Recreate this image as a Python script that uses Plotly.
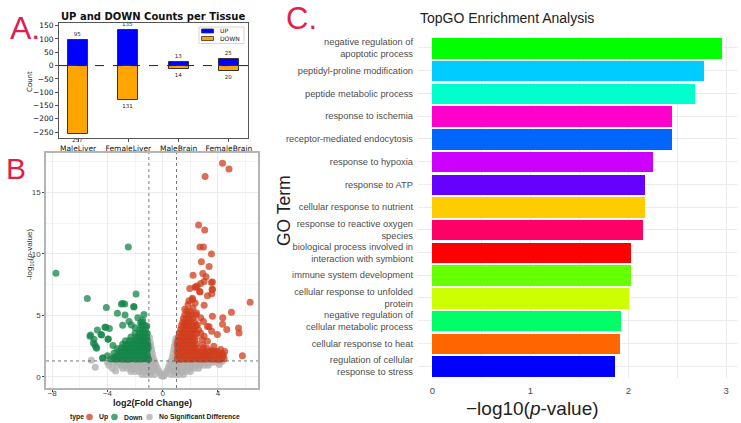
import plotly.graph_objects as go

# ---------------- data ----------------
tissues = ["MaleLiver", "FemaleLiver", "MaleBrain", "FemaleBrain"]
up_counts = [95, 135, 13, 25]
down_counts = [257, 131, 14, 20]

go_terms = [
    "negative regulation of<br>apoptotic process",
    "peptidyl-proline modification",
    "peptide metabolic process",
    "response to ischemia",
    "receptor-mediated endocytosis",
    "response to hypoxia",
    "response to ATP",
    "cellular response to nutrient",
    "response to reactive oxygen<br>species",
    "biological process involved in<br>interaction with symbiont",
    "immune system development",
    "cellular response to unfolded<br>protein",
    "negative regulation of<br>cellular metabolic process",
    "cellular response to heat",
    "regulation of cellular<br>response to stress",
]
go_values = [2.96, 2.77, 2.68, 2.445, 2.45, 2.255, 2.17, 2.17, 2.15, 2.03, 2.03, 2.01, 1.93, 1.91, 1.86]
go_colors = ["#00FF00", "#00CCFF", "#00FFCC", "#FF00CC", "#0066FF", "#CC00FF", "#6600FF", "#FFCC00",
             "#FF0066", "#FF0000", "#66FF00", "#CCFF00", "#00FF66", "#FF6600", "#0000FF"]

# volcano: significant up-regulated genes
up_x = [4.33, 4.8, 3.07, 2.6, 3.04, 2.7, 2.95, 3.53, 2.8, 3.36, 2.2, 2.9, 3.14, 3.53, 2.75, 3.0, 2.5, 2.35,
        1.96, 3.58, 2.68, 3.55, 3.24, 2.15, 3.6, 2.39, 2.7, 3.6, 6.33, 1.83, 2.15, 3.0, 4.98, 3.6, 4.35,
        4.64, 5.49, 5.53, 5.77, 3.96, 3.55, 3.36, 3.24, 4.2, 4.08, 3.6, 4.33, 3.91, 3.36, 2.75, 2.51, 4.33,
        3.24, 2.75, 4.49, 3.0, 2.9, 3.7, 3.1, 2.95, 2.2, 2.45, 1.6, 1.9, 2.35,
        1.05, 1.25, 1.45, 1.65, 1.85, 2.05, 2.25, 2.45, 2.65, 2.85, 3.05, 3.25, 3.45, 3.65, 3.85, 4.05, 4.25, 4.45,
        1.1, 1.3, 1.5, 1.7, 1.9, 2.1, 2.3, 2.5, 2.7, 2.9, 3.1, 3.3, 3.5, 3.7, 3.95, 4.15, 4.4,
        1.05, 1.25, 1.45, 1.65, 1.85, 2.05, 2.25, 2.45, 2.65, 2.85, 3.05, 3.45, 3.75,
        1.1, 1.3, 1.5, 1.7, 1.9, 2.1, 2.3, 2.5, 2.95, 3.2,
        1.05, 1.25, 1.45, 1.65, 1.85, 2.05, 2.25, 2.45,
        1.1, 1.3, 1.5, 1.7, 1.9, 2.1, 2.3, 2.85,
        1.15, 1.35, 1.55, 1.75, 1.95, 2.15, 2.35,
        1.2, 1.4, 1.6, 1.8, 2.0, 2.2, 2.45,
        1.3, 1.5, 1.7, 1.9, 2.1, 2.3, 2.6,
        1.35, 1.55, 1.75, 1.95, 2.15, 2.4,
        1.45, 1.65, 1.85, 2.05, 2.3,
        1.5, 1.7, 1.95, 2.2,
        1.6, 1.85, 2.1, 2.4,
        1.75, 2.0]
up_y = [17.37, 16.9, 16.3, 12.35, 11.95, 10.57, 10.57, 10.0, 9.37, 8.97, 8.27, 8.4, 8.15, 7.67, 7.6, 7.75, 7.4, 7.3,
        7.18, 7.13, 6.94, 6.77, 6.59, 6.4, 7.72, 7.29, 6.91, 7.1, 6.07, 5.88, 6.28, 5.83, 5.26, 4.93, 4.8,
        3.85, 3.98, 3.58, 1.73, 3.44, 3.71, 4.07, 2.9, 2.22, 1.95, 2.14, 1.87, 2.09, 2.09, 4.8, 4.25, 4.28,
        4.09, 3.55, 2.06, 3.3, 2.6, 2.5, 1.9, 4.5, 5.6, 5.2, 5.5, 6.2, 6.0,
        1.45, 1.42, 1.47, 1.44, 1.46, 1.43, 1.45, 1.48, 1.44, 1.46, 1.43, 1.47, 1.45, 1.44, 1.46, 1.42, 1.45, 1.48,
        1.75, 1.78, 1.73, 1.76, 1.74, 1.77, 1.75, 1.72, 1.76, 1.74, 1.78, 1.75, 1.73, 1.76, 1.74, 1.77, 1.75,
        2.05, 2.03, 2.07, 2.04, 2.06, 2.05, 2.02, 2.08, 2.05, 2.04, 2.06, 2.03, 2.07,
        2.35, 2.37, 2.33, 2.36, 2.34, 2.35, 2.38, 2.32, 2.36, 2.34,
        2.65, 2.63, 2.67, 2.64, 2.66, 2.65, 2.62, 2.68,
        2.95, 2.97, 2.93, 2.96, 2.94, 2.95, 2.98, 3.05,
        3.25, 3.23, 3.27, 3.24, 3.26, 3.25, 3.22,
        3.55, 3.57, 3.53, 3.56, 3.54, 3.55, 3.52,
        3.85, 3.83, 3.87, 3.84, 3.86, 3.85, 3.82,
        4.15, 4.17, 4.13, 4.16, 4.14, 4.15,
        4.45, 4.43, 4.47, 4.44, 4.46,
        4.75, 4.77, 4.73, 4.76,
        5.05, 5.03, 5.07, 5.04,
        5.35, 5.33]

# volcano: significant down-regulated genes
down_x = [-2.49, -7.73, -1.93, -5.46, -4.08, -2.99, -2.75, -2.1, -3.28, -1.36, -2.73, -2.44, -2.27, -4.13,
          -3.86, -4.73, -5.22, -4.42, -3.96, -4.98, -4.9, -4.78, -4.0, -4.33, -3.53, -3.6, -3.3, -1.8, -1.6,
          -2.0, -1.45, -3.5, -3.75, -2.9, -2.08, -2.9, -4.18, -5.27, -4.47, -3.94, -5.02, -4.83, -4.35,
          -3.55, -3.35, -3.15, -2.95, -2.75, -2.55, -2.35, -2.15, -1.95, -1.75, -1.55, -1.35, -1.15, -1.02,
          -3.3, -3.1, -2.9, -2.7, -2.5, -2.3, -2.1, -1.9, -1.7, -1.5, -1.3, -1.1,
          -3.15, -2.95, -2.75, -2.55, -2.35, -2.15, -1.95, -1.75, -1.55, -1.35, -1.15,
          -3.0, -2.8, -2.6, -2.4, -2.2, -2.0, -1.8, -1.6, -1.4, -1.2, -1.05,
          -2.9, -2.65, -2.45, -2.25, -2.05, -1.85, -1.65, -1.45, -1.25, -1.08,
          -2.7, -2.4, -2.1, -1.9, -1.7, -1.5, -1.3, -1.12,
          -2.3, -1.95, -1.75, -1.55, -1.35, -1.15,
          -2.0, -1.7, -1.5, -1.3, -1.12,
          -1.65, -1.45, -1.25,
          -1.55, -1.3, -1.15,
          -1.5]
down_y = [10.55, 8.43, 6.75, 6.37, 5.64, 5.93, 5.93, 5.72, 5.18, 5.07, 5.04, 4.5, 4.23, 4.04,
          3.93, 3.82, 3.41, 3.41, 3.06, 3.06, 2.6, 2.33, 1.73, 1.54, 1.92, 2.55, 2.3, 4.8, 4.4,
          4.0, 4.6, 1.6, 1.45, 5.96, 5.69, 4.2, 4.04, 3.31, 3.44, 3.09, 2.76, 2.41, 1.54,
          1.45, 1.43, 1.47, 1.44, 1.46, 1.42, 1.45, 1.48, 1.44, 1.46, 1.43, 1.47, 1.45, 1.44,
          1.75, 1.77, 1.73, 1.76, 1.74, 1.78, 1.75, 1.72, 1.76, 1.74, 1.77, 1.75,
          2.05, 2.03, 2.07, 2.04, 2.06, 2.05, 2.02, 2.08, 2.05, 2.04, 2.06,
          2.35, 2.37, 2.33, 2.36, 2.34, 2.35, 2.38, 2.32, 2.36, 2.34, 2.35,
          2.65, 2.63, 2.67, 2.64, 2.66, 2.65, 2.62, 2.68, 2.65, 2.64,
          2.95, 2.97, 2.93, 2.96, 2.94, 2.95, 2.98, 2.95,
          3.25, 3.23, 3.27, 3.24, 3.26, 3.25,
          3.55, 3.57, 3.53, 3.56, 3.54,
          3.85, 3.83, 3.87,
          4.15, 4.17, 4.13,
          4.45]

# volcano: not significant
ns_x = [-0.95, -0.9, -0.85, -0.8, -0.75, -0.7, -0.6, -0.5, -0.4, -0.3, -0.2, -0.1, 0.0, 0.1, 0.2, 0.3, 0.4,
        0.5, 0.6, 0.7, 0.75, 0.8, 0.85, 0.9, 0.95,
        -0.95, -0.95, -0.9, -0.95, -0.8, -0.9, -0.7, -0.6, -0.85, 0.95, 0.95, 0.9, 0.95, 0.8, 0.9, 0.7, 0.6, 0.85,
        -3.6, -3.3, -3.0, -2.7, -2.4, -2.1, -1.8, -1.5, -1.2, 1.2, 1.5, 1.8, 2.1, 2.4, 2.7, 3.0, 3.3, 3.6, 3.9,
        -3.3, -3.0, -2.7, -2.4, -2.1, -1.8, -1.5, -1.2, 1.2, 1.5, 1.8, 2.1, 2.4, 2.7, 3.0, 3.3,
        -2.9, -2.6, -2.3, -2.0, -1.7, -1.4, -1.1, 1.1, 1.4, 1.7, 2.0, 2.3, 2.6,
        -2.3, -2.0, -1.7, -1.4, -1.1, -0.8, 0.8, 1.1, 1.4, 1.7, 2.0,
        -1.5, -1.2, -0.9, -0.6, 0.6, 0.9, 1.2, 1.5,
        -5.17, -4.88, -3.65, -3.41, -4.0, -3.9, 4.3, 4.1]
ns_y = [3.2, 2.8, 2.5, 2.2, 1.9, 1.6, 1.3, 1.0, 0.75, 0.5, 0.3, 0.12, 0.05, 0.1, 0.28, 0.5, 0.75,
        1.0, 1.3, 1.6, 1.9, 2.2, 2.5, 2.8, 3.1,
        2.5, 2.0, 1.6, 1.2, 1.2, 0.9, 0.9, 0.6, 0.6, 2.5, 2.0, 1.6, 1.2, 1.2, 0.9, 0.9, 0.6, 0.6,
        1.2, 1.2, 1.2, 1.2, 1.2, 1.2, 1.2, 1.2, 1.2, 1.2, 1.2, 1.2, 1.2, 1.2, 1.2, 1.2, 1.2, 1.2, 1.2,
        0.95, 0.95, 0.95, 0.95, 0.95, 0.95, 0.95, 0.95, 0.95, 0.95, 0.95, 0.95, 0.95, 0.95, 0.95, 0.95,
        0.7, 0.7, 0.7, 0.7, 0.7, 0.7, 0.7, 0.7, 0.7, 0.7, 0.7, 0.7, 0.7,
        0.45, 0.45, 0.45, 0.45, 0.45, 0.45, 0.45, 0.45, 0.45, 0.45, 0.45,
        0.2, 0.2, 0.2, 0.2, 0.2, 0.2, 0.2, 0.2,
        1.36, 0.79, 0.71, 0.49, 1.2, 0.95, 1.25, 1.0]

fc_threshold = 1.0
p_threshold = 1.3

# ---------------- layout helpers ----------------
W, H = 741, 423
def fx(p):
    return p / W
def fy(p):
    return 1 - p / H

SANS = "Liberation Sans, Arial, sans-serif"
DEJAVU = "DejaVu Sans, sans-serif"
RED = "#E41E4B"
UP_COL = "#0000FF"
DOWN_COL = "#FFA500"
V_UP = "rgb(208,62,28)"
V_DOWN = "rgb(20,134,72)"
V_NS = "rgb(178,178,178)"

fig = go.Figure()

# ---------------- Panel A ----------------
fig.add_trace(go.Bar(x=tissues, y=up_counts, name="UP", width=0.4,
                     marker=dict(color=UP_COL, line=dict(color="#333333", width=1)),
                     text=[str(v) for v in up_counts], textposition="outside", constraintext="none",
                     textfont=dict(size=5.5, family=DEJAVU, color="#222"), cliponaxis=False,
                     xaxis="x", yaxis="y"))
fig.add_trace(go.Bar(x=tissues, y=[-v for v in down_counts], name="DOWN", width=0.4,
                     marker=dict(color=DOWN_COL, line=dict(color="#333333", width=1)),
                     text=[str(v) for v in down_counts], textposition="outside", constraintext="none",
                     textfont=dict(size=5.5, family=DEJAVU, color="#222"), cliponaxis=False,
                     xaxis="x", yaxis="y"))

# ---------------- Panel B ----------------
MS = 7
fig.add_trace(go.Scatter(x=ns_x, y=ns_y, mode="markers", name="No Significant Difference",
                         marker=dict(color=V_NS, size=MS, opacity=0.8, line=dict(width=0)),
                         xaxis="x2", yaxis="y2"))
fig.add_trace(go.Scatter(x=down_x, y=down_y, mode="markers", name="Down",
                         marker=dict(color=V_DOWN, size=MS, opacity=0.75, line=dict(width=0)),
                         xaxis="x2", yaxis="y2"))
fig.add_trace(go.Scatter(x=up_x, y=up_y, mode="markers", name="Up",
                         marker=dict(color=V_UP, size=MS, opacity=0.75, line=dict(width=0)),
                         xaxis="x2", yaxis="y2"))

# ---------------- Panel C ----------------
fig.add_trace(go.Bar(y=go_terms, x=go_values, orientation="h", width=0.9,
                     marker=dict(color=go_colors, line=dict(width=0)),
                     xaxis="x3", yaxis="y3"))

def paper_rect(x0, y0, x1, y1, fill, line="#333", lw=0.8):
    return dict(type="rect", xref="paper", yref="paper", x0=fx(x0), x1=fx(x1), y0=fy(y1), y1=fy(y0),
                fillcolor=fill, line=dict(color=line, width=lw), layer="above")

def paper_circle(cx, cy, r, fill, op):
    return dict(type="circle", xref="paper", yref="paper", x0=fx(cx - r), x1=fx(cx + r),
                y0=fy(cy + r), y1=fy(cy - r), fillcolor=fill, opacity=op, line=dict(width=0), layer="above")

shapes = [
    dict(type="line", xref="x domain", yref="y", x0=0, x1=1, y0=0, y1=0,
         line=dict(color="#222", width=1, dash="dash")),
    dict(type="line", xref="x2", yref="y2 domain", x0=-fc_threshold, x1=-fc_threshold, y0=0, y1=1,
         line=dict(color="#555", width=0.8, dash="dot")),
    dict(type="line", xref="x2", yref="y2 domain", x0=fc_threshold, x1=fc_threshold, y0=0, y1=1,
         line=dict(color="#555", width=0.8, dash="dot")),
    dict(type="line", xref="x2 domain", yref="y2", x0=0, x1=1, y0=p_threshold, y1=p_threshold,
         line=dict(color="#555", width=0.8, dash="dot")),
    # legend box panel A
    paper_rect(199, 27, 244, 43.5, "white", line="#CCCCCC", lw=0.8),
    paper_rect(201.5, 29, 213.5, 33, UP_COL),
    paper_rect(201.5, 36.5, 213.5, 40.5, DOWN_COL),
    # legend panel B
    paper_circle(89.5, 417, 3.3, V_UP, 0.75),
    paper_circle(114.5, 417, 3.3, V_DOWN, 0.75),
    paper_circle(149.5, 417, 3.3, V_NS, 0.8),
]

def ann(text, x, y, size, color="#222", family=SANS, xanchor="center", angle=0):
    return dict(text=text, x=fx(x), y=fy(y), xref="paper", yref="paper", xanchor=xanchor, yanchor="middle",
                textangle=angle, showarrow=False, font=dict(size=size, color=color, family=family))

annotations = [
    ann("A.", 8, 28, 32, RED, xanchor="left"),
    ann("B", 4, 168, 30, RED, xanchor="left"),
    ann("C.", 284, 19, 31, RED, xanchor="left"),
    ann("<b>UP and DOWN Counts per Tissue</b>", 153, 17, 10, "#111", DEJAVU),
    ann("Count", 30, 82, 7, "#111", DEJAVU, angle=-90),
    ann("UP", 218, 31, 6, "#111", DEJAVU, xanchor="left"),
    ann("DOWN", 218, 38.5, 6, "#111", DEJAVU, xanchor="left"),
    ann("-log<sub>10</sub>(<i>p</i>-value)", 30, 255, 8, "#333", angle=-90),
    ann("<b>log2(Fold Change)</b>", 152, 402.5, 9, "#222"),
    ann("<b>type</b>", 68, 417, 6.8, "#222", xanchor="left"),
    ann("<b>Up</b>", 96.5, 417, 6.8, "#222", xanchor="left"),
    ann("<b>Down</b>", 121.5, 417, 6.8, "#222", xanchor="left"),
    ann("<b>No Significant Difference</b>", 157, 417, 6.8, "#222", xanchor="left"),
    ann("TopGO Enrichment Analysis", 418, 18, 14, "#222", xanchor="left"),
    ann("GO Term", 284, 211, 17.5, "#222", angle=-90),
    ann("\u2212log10(<i>p</i>-value)", 532, 408, 19, "#222"),
]

fig.update_layout(
    width=W, height=H, margin=dict(l=0, r=0, t=0, b=0, autoexpand=False),
    paper_bgcolor="white", plot_bgcolor="white",
    barmode="overlay", bargap=0,
    showlegend=False,
    shapes=shapes, annotations=annotations,
    # Panel A axes
    xaxis=dict(domain=[fx(59), fx(248)], anchor="y", range=[-0.38, 3.38], type="category",
               showline=True, mirror=True, linecolor="#555", linewidth=1, showgrid=False, zeroline=False,
               ticks="outside", ticklen=3, tickcolor="#555",
               tickfont=dict(size=7.5, family=DEJAVU, color="#111")),
    yaxis=dict(domain=[fy(138), fy(23)], anchor="x", range=[-272, 160],
               tickvals=[-250, -200, -150, -100, -50, 0, 50, 100, 150],
               showline=True, mirror=True, linecolor="#555", linewidth=1, showgrid=False, zeroline=False,
               ticks="outside", ticklen=3, tickcolor="#555",
               tickfont=dict(size=7.5, family=DEJAVU, color="#111")),
    # Panel B axes
    xaxis2=dict(domain=[fx(46), fx(258)], anchor="y2", range=[-8.45, 6.9], tickvals=[-8, -4, 0, 4],
                showline=True, mirror=True, linecolor="#B5B5B5", linewidth=1.5,
                showgrid=True, gridcolor="#EBEBEB", gridwidth=1, zeroline=False,
                minor=dict(tickvals=[-6, -2, 2, 6], showgrid=True, gridcolor="#F4F4F4", gridwidth=0.6),
                ticks="outside", ticklen=2, tickcolor="#444", ticklabelstandoff=-5,
                tickfont=dict(size=8, family=SANS, color="#444")),
    yaxis2=dict(domain=[fy(388), fy(153)], anchor="x2", range=[-0.9, 18.2], tickvals=[0, 5, 10, 15],
                showline=True, mirror=True, linecolor="#B5B5B5", linewidth=1.5,
                showgrid=True, gridcolor="#EBEBEB", gridwidth=1, zeroline=False,
                minor=dict(tickvals=[2.5, 7.5, 12.5, 17.5], showgrid=True, gridcolor="#F4F4F4", gridwidth=0.6),
                ticks="outside", ticklen=2, tickcolor="#444",
                tickfont=dict(size=8, family=SANS, color="#444")),
    # Panel C axes
    xaxis3=dict(domain=[fx(418), fx(737)], anchor="y3", range=[-0.148, 3.11], tickvals=[0, 1, 2, 3],
                showline=False, showgrid=True, gridcolor="#EBEBEB", gridwidth=1, zeroline=False,
                minor=dict(tickvals=[0.5, 1.5, 2.5], showgrid=True, gridcolor="#EBEBEB", gridwidth=1),
                ticks="", ticklabelstandoff=6, tickfont=dict(size=9.5, family=SANS, color="#4D4D4D")),
    yaxis3=dict(domain=[fy(377.5), fy(36.5)], anchor="x3", type="category",
                categoryorder="array", categoryarray=go_terms, autorange="reversed",
                showline=False, showgrid=True, gridcolor="#EBEBEB", gridwidth=1, zeroline=False,
                ticks="", ticklabelstandoff=4,
                tickfont=dict(size=9.3, family=SANS, color="#4D4D4D")),
)

fig.write_html("out.html")
